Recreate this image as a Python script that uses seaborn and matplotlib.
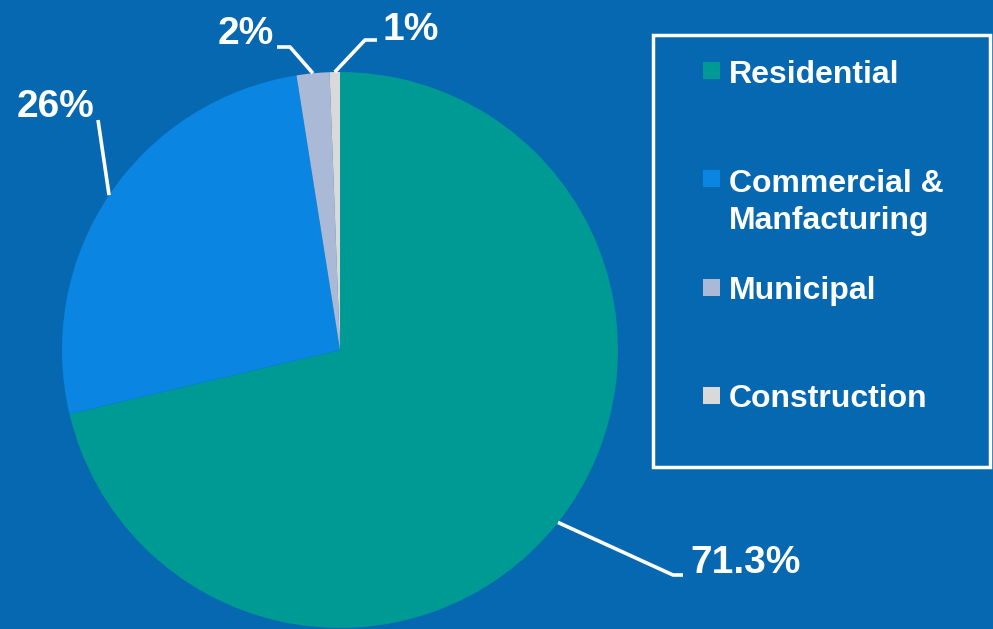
import numpy as np
import matplotlib
matplotlib.use("Agg")
import matplotlib.pyplot as plt
import seaborn as sns
from matplotlib.patches import Rectangle

categories = ["Residential", "Commercial &\nManfacturing", "Municipal", "Construction"]
values = [71.3, 26.2, 1.9, 0.6]
labels = ["71.3%", "26%", "2%", "1%"]
colors = ["#009a94", "#0a85e2", "#a9b9d6", "#d9d9d9"]

BG = "#0568b0"
sns.set_style("white")
plt.rcParams['font.family'] = ['Liberation Sans', 'DejaVu Sans']

W, H = 993, 629
CX, CY, R = 340, 350, 278

def px(x, y):
    return (x - CX) / R, (CY - y) / R

fig = plt.figure(figsize=(W / 100, H / 100), dpi=100)
fig.patch.set_facecolor(BG)
ax = fig.add_axes([0, 0, 1, 1])
ax.set_facecolor(BG)
x0, _ = px(0, 0)
x1, _ = px(W, 0)
_, y0 = px(0, H)
_, y1 = px(0, 0)
ax.axis('off')

wedges, _ = ax.pie(values, colors=colors, startangle=90, counterclock=False,
                   radius=1, center=(0, 0), wedgeprops=dict(linewidth=0))
ax.set_xlim(x0, x1)
ax.set_ylim(y0, y1)
ax.set_aspect('equal', adjustable='box')

# leader lines & labels (label layout in pixels)
layout = {
    "71.3%": dict(path=[(673, 575), (683, 575)], text=(690, 563), ha='left'),
    "26%": dict(path=[(98, 120)], text=(55, 107), ha='center'),
    "2%": dict(path=[(290, 47), (277, 47)], text=(246, 34), ha='center'),
    "1%": dict(path=[(365, 40), (377, 40)], text=(411, 30), ha='center'),
}
for w, lab in zip(wedges, labels):
    mid = np.deg2rad((w.theta1 + w.theta2) / 2)
    pts = [(np.cos(mid), np.sin(mid))] + [px(*p) for p in layout[lab]["path"]]
    xs, ys = zip(*pts)
    ax.plot(xs, ys, color='white', lw=2.6, solid_capstyle='butt', clip_on=False)
    tx, ty = px(*layout[lab]["text"])
    ax.text(tx, ty, lab, color='white', fontsize=28, fontweight='bold',
            ha=layout[lab]["ha"], va='center')

# legend box
bx0, by0 = px(653, 467)
bx1, by1 = px(990, 35)
ax.add_patch(Rectangle((bx0, by0), bx1 - bx0, by1 - by0, fill=False,
                       edgecolor='white', lw=2.5, clip_on=False))
sq = 17 / R
entries = [
    (categories[0], 70.5, [83]),
    (categories[1], 178.5, [192, 229]),
    (categories[2], 287.5, [299]),
    (categories[3], 395, [407]),
]
for (name, sqy, baselines), col in zip(entries, colors):
    sx, sy = px(703, sqy)
    ax.add_patch(Rectangle((sx, sy - sq / 2), sq, sq, facecolor=col, edgecolor='none'))
    for line, bl in zip(name.split("\n"), baselines):
        tx, ty = px(729, bl)
        ax.text(tx, ty, line, color='white', fontsize=23, fontweight='bold',
                ha='left', va='baseline')

fig.savefig("out.png", dpi=100, facecolor=BG)
